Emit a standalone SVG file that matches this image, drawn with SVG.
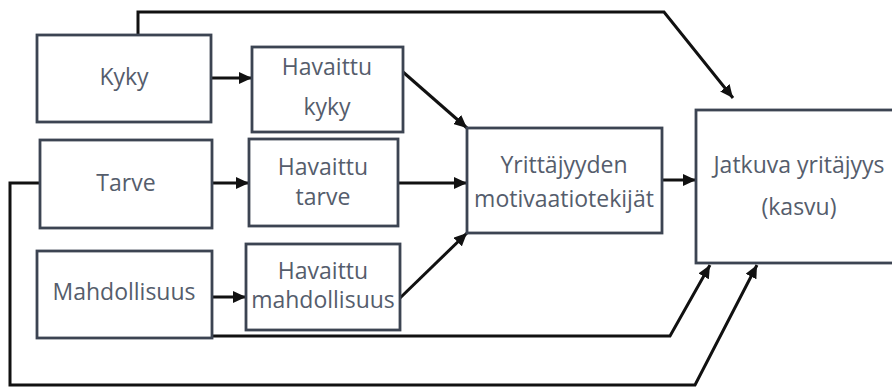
<svg xmlns="http://www.w3.org/2000/svg" width="892" height="387" viewBox="0 0 892 387">
<defs>
<style>
.box{fill:#fff;stroke:#3c4452;stroke-width:2.8}
.t{font-family:"Open Sans","Liberation Sans",sans-serif;font-size:23px;fill:#555d6c;text-anchor:middle}
.c{fill:none;stroke:#111;stroke-width:3;stroke-linejoin:miter}
</style>
<marker id="ah" markerUnits="userSpaceOnUse" markerWidth="14" markerHeight="12" refX="13" refY="6" orient="auto">
<path d="M0,0 L13,6 L0,12 Z" fill="#111"/>
</marker>
</defs>
<rect width="892" height="387" fill="#fff"/>
<g id="connectors">
<path class="c" d="M138,35 V12 H664 L733,98" marker-end="url(#ah)"/>
<path class="c" d="M211,78 H252" marker-end="url(#ah)"/>
<path class="c" d="M403,72 L467,128" marker-end="url(#ah)"/>
<path class="c" d="M212,183 H249" marker-end="url(#ah)"/>
<path class="c" d="M398,183 H467" marker-end="url(#ah)"/>
<path class="c" d="M212,297 H246" marker-end="url(#ah)"/>
<path class="c" d="M400,298 L467,233" marker-end="url(#ah)"/>
<path class="c" d="M662,180 H696" marker-end="url(#ah)"/>
<path class="c" d="M212,336 H670 L710,265" marker-end="url(#ah)"/>
<path class="c" d="M40,183 H10 V385 H695 L757,265" marker-end="url(#ah)"/>
</g>
<g id="kyky"><rect class="box" x="37" y="35" width="174" height="87"/><text class="t" x="124" y="85">Kyky</text></g>
<g id="havaittu-kyky"><rect class="box" x="252" y="47" width="151" height="85"/><text class="t" x="327" y="75">Havaittu</text><text class="t" x="327" y="115">kyky</text></g>
<g id="tarve"><rect class="box" x="40" y="140" width="172" height="88"/><text class="t" x="126" y="191">Tarve</text></g>
<g id="havaittu-tarve"><rect class="box" x="249" y="139" width="149" height="87"/><text class="t" x="323" y="175">Havaittu</text><text class="t" x="323" y="205">tarve</text></g>
<g id="mahdollisuus"><rect class="box" x="37" y="251" width="175" height="87"/><text class="t" x="124" y="300">Mahdollisuus</text></g>
<g id="havaittu-mahdollisuus"><rect class="box" x="246" y="244" width="154" height="86"/><text class="t" x="323" y="279">Havaittu</text><text class="t" x="323" y="308">mahdollisuus</text></g>
<g id="motivaatio"><rect class="box" x="467" y="128" width="195" height="105"/><text class="t" x="564" y="173">Yrittäjyyden</text><text class="t" x="564" y="207">motivaatiotekijät</text></g>
<g id="jatkuva"><rect class="box" x="696" y="110" width="210" height="153"/><text class="t" x="799" y="173">Jatkuva yritäjyys</text><text class="t" x="799" y="215">(kasvu)</text></g>
</svg>
